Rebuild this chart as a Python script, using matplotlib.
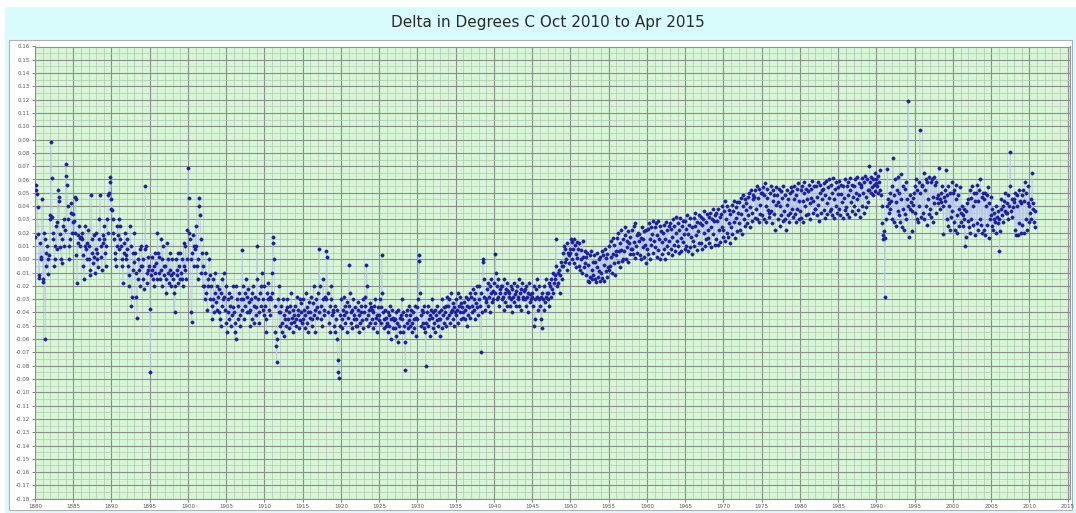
import numpy as np
import matplotlib.pyplot as plt
from matplotlib.patches import Rectangle
from matplotlib.ticker import MultipleLocator

# monthly delta values, thousandths of a degree C, one row per year
d1880 = [17, 56, 52, 49, 39, 19, -12, -14, 12, 2, 0, 45,
         -15, -17, 20, 15, -60, 5, -5, 10, 0, -11, 3, 30,
         33, 88, 61, 32, 20, 15, -5, 0, 10, 25, 8, 28,
         52, 47, 44, 19, 9, 0, -3, 15, 25, 30, 10, 22,
         72, 63, 56, 40, 30, 10, 0, 15, 35, 42, 20, 28,
         34, 29, 20, 47, 45, 3, -18, 12, 18, 25, 10, 16,
         17, 15, 20, 3, -5, -15, 10, 25, 8, 0, 12, 22,
         10, 0, -8, -12, 48, 15, 5, -3, 18, 2, -10, 8,
         20, 5, 0, -6, 15, 30, 48, 10, 2, -8, 12, 18,
         15, 25, 5, -5, 10, 30, 20, 48, 50, 62, 58, 38]
d1890 = [45, 37, 30, 20, 15, 5, 0, -5, 10, 25, 18, 8,
         30, 25, 15, 10, 0, -5, -18, 5, 12, 20, 3, 0,
         15, 8, -5, -12, -20, 25, 10, -35, -28, 5, -8, -2,
         20, 5, -10, -28, -44, -15, 0, -8, 8, -20, -5, 10,
         -5, 0, -15, -22, 8, 55, 10, -10, -18, 2, -8, -5,
         -37, -85, -12, -8, 2, -15, -5, -20, 5, -10, -3, -15,
         20, 5, -10, 2, -15, -8, 15, -20, 0, 10, -12, -5,
         -5, -15, -25, 12, -10, 0, -18, -8, 5, -20, -12, 0,
         -10, -15, -25, -40, -20, 0, -8, -12, 5, -18, -5, -15,
         5, -10, -15, 0, -20, 12, -5, -8, 10, -15, 0, 22]
d1900 = [69, 46, 20, 15, 0, -40, -47, 5, 18, -5, 10, 8,
         25, 10, -5, -15, 0, 46, 40, 33, 15, -10, 5, -20,
         -5, -20, -30, -10, 5, -25, -38, -15, -20, 0, -12, -30,
         -20, -35, -45, -30, -15, -40, -25, -10, -32, -38, -20, -28,
         -22, -40, -45, -50, -25, -15, -35, -30, -10, -28, -38, -20,
         -48, -55, -40, -30, -25, -45, -35, -50, -28, -42, -36, -20,
         -40, -48, -55, -60, -20, -30, -45, -35, -25, -42, -50, -30,
         -38, 7, -20, -30, -45, -25, -35, -15, -28, -40, -22, -32,
         -40, -50, -38, -30, -25, -45, -20, -35, -48, -28, -36, -42,
         10, -15, -30, -40, -48, -25, -20, -35, -10, -30, -38, -42]
d1910 = [-20, -35, -45, -55, -25, -30, -18, -38, -28, -42, -30, -25,
         -10, 17, 12, 0, -35, -55, -65, -77, -60, -30, -40, -20,
         -50, -40, -35, -55, -48, -30, -42, -58, -45, -38, -50, -36,
         -30, -45, -52, -40, -35, -48, -25, -44, -55, -38, -42, -47,
         -35, -50, -45, -28, -42, -38, -52, -30, -46, -40, -33, -48,
         -45, -30, -38, -52, -42, -25, -48, -36, -55, -40, -32, -44,
         -40, -28, -50, -45, -33, -20, -42, -38, -55, -30, -36, -44,
         -25, -40, 8, -20, -45, -35, -50, -30, -15, -38, -42, -28,
         -30, 6, 2, -25, -40, -48, -35, -55, -30, -20, -42, -38,
         -40, -50, -35, -55, -45, -38, -60, -76, -85, -89, -50, -42]
d1920 = [-30, -45, -52, -38, -28, -42, -35, -48, -40, -55, -32, -44,
         -35, -4, -25, -40, -48, -52, -38, -30, -45, -42, -36, -50,
         -45, -50, -38, -32, -55, -42, -48, -35, -40, -46, -30, -52,
         -40, -35, -28, -45, -4, -20, -42, -50, -38, -33, -48, -36,
         -38, -45, -52, -40, -35, -48, -30, -44, -55, -42, -36, -46,
         -42, -30, -48, -36, 3, -25, -40, -52, -45, -38, -50, -44,
         -48, -40, -55, -42, -50, -35, -60, -45, -38, -52, -44, -46,
         -52, -45, -58, -40, -48, -62, -38, -50, -44, -55, -42, -30,
         -45, -55, -40, -50, -62, -83, -42, -48, -38, -52, -46, -35,
         -50, -42, -38, -55, -48, -40, -52, -45, -35, -58, -44, -36]
d1930 = [-45, -30, 3, -1, -25, -42, -50, -38, -48, -40, -35, -52,
         -55, -80, -48, -40, -35, -50, -45, -42, -58, -38, -44, -30,
         -40, -52, -48, -38, -55, -42, -46, -35, -50, -45, -40, -58,
         -45, -38, -52, -30, -42, -36, -48, -40, -35, -50, -44, -28,
         -35, -42, -30, -48, -40, -25, -38, -45, -33, -50, -36, -40,
         -30, -42, -38, -25, -48, -35, -40, -28, -45, -33, -36, -44,
         -40, -32, -45, -38, -28, -50, -35, -42, -30, -36, -44, -25,
         -28, -35, -40, -22, -38, -30, -45, -25, -33, -36, -20, -42,
         -30, -20, -35, -25, -70, -40, 0, -2, -15, -28, -38, -32,
         -30, -22, -35, -18, -28, -40, -20, -25, -15, -32, -24, -30]
d1940 = [-18, -25, 4, -10, -20, -30, -28, -15, -35, -22, -25, -20,
         -30, -20, -28, -38, -15, -25, -32, -22, -18, -35, -24, -28,
         -25, -35, -20, -30, -40, -22, -28, -18, -32, -26, -35, -24,
         -20, -30, -28, -15, -35, -25, -22, -38, -18, -28, -30, -24,
         -22, -30, -35, -20, -28, -40, -25, -18, -32, -26, -30, -28,
         -25, -35, -20, -50, -45, -30, -22, -15, -28, -38, -20, -30,
         -35, -28, -45, -52, -25, -30, -20, -38, -32, -15, -28, -25,
         -30, -25, -18, -35, -20, -28, -15, -22, -10, -25, -18, -12,
         -15, 15, -5, -20, -10, -18, -8, -25, -12, -2, -15, -5,
         -5, 5, 10, -2, 8, 0, -8, 12, 5, 3, -3, 8]
d1950 = [5, 15, 13, 0, 8, 15, -3, 11, 4, -6, 13, 1,
         8, -5, 12, -8, 7, 0, -10, 14, 2, -6, 6, -3,
         2, -12, 5, -16, -4, -17, 3, -13, 6, -8, -15, -2,
         -12, 3, -15, -2, -17, -6, 5, -13, 0, -9, -16, 2,
         -10, 6, -14, 3, -16, -4, 8, -9, 1, -13, 4, -6,
         -8, 10, -5, 14, 2, -10, 16, 4, -3, 11, -12, 6,
         3, 16, -2, 20, 6, 12, -6, 22, 7, -1, 15, 0,
         6, 18, 24, 0, 14, 9, 21, -2, 12, 4, 17, 8,
         8, 22, 4, 25, 13, 1, 27, 10, 18, 5, 20, 14,
         19, 3, 16, 0, 24, 9, 15, 2, 21, 11, -3, 22]
d1960 = [8, 23, 4, 27, 15, 0, 24, 11, 19, 5, 29, 14,
         24, 9, 27, 2, 18, 29, 7, 15, 25, 0, 21, 13,
         4, 20, 8, 26, 0, 15, 28, 10, 22, 5, 14, 25,
         27, 8, 23, 3, 17, 30, 11, 25, 6, 20, 32, 14,
         10, 27, 5, 22, 31, 16, 6, 25, 13, 29, 19, 8,
         29, 10, 23, 33, 6, 19, 26, 9, 31, 17, 4, 24,
         14, 31, 10, 25, 35, 18, 7, 28, 21, 33, 12, 27,
         32, 12, 26, 8, 30, 20, 36, 10, 28, 15, 34, 22,
         16, 32, 12, 35, 24, 9, 30, 38, 19, 29, 11, 33,
         35, 15, 29, 11, 38, 22, 32, 13, 34, 24, 40, 17]
d1970 = [22, 36, 44, 14, 30, 40, 20, 17, 37, 27, 12, 34,
         24, 41, 19, 36, 44, 28, 16, 39, 31, 21, 43, 35,
         27, 43, 22, 46, 34, 19, 40, 48, 30, 25, 45, 37,
         42, 27, 47, 33, 50, 24, 39, 52, 35, 29, 45, 48,
         47, 31, 52, 38, 55, 30, 46, 28, 53, 41, 34, 50,
         50, 33, 54, 30, 48, 57, 40, 28, 46, 53, 37, 35,
         32, 50, 36, 55, 27, 44, 52, 34, 48, 22, 41, 54,
         48, 30, 43, 53, 25, 40, 51, 33, 46, 29, 55, 36,
         30, 48, 22, 41, 52, 33, 45, 28, 50, 35, 54, 38,
         51, 32, 45, 55, 34, 48, 28, 53, 38, 57, 30, 44]
d1980 = [36, 52, 31, 55, 44, 28, 50, 58, 40, 33, 53, 45,
         51, 34, 56, 42, 30, 53, 46, 59, 35, 44, 55, 38,
         38, 55, 33, 47, 58, 41, 29, 50, 56, 35, 45, 52,
         53, 37, 57, 31, 48, 59, 42, 34, 54, 46, 60, 36,
         38, 56, 33, 50, 61, 45, 31, 53, 40, 58, 35, 49,
         54, 38, 59, 33, 49, 56, 43, 31, 55, 46, 60, 37,
         39, 55, 34, 58, 48, 32, 52, 61, 43, 36, 56, 47,
         55, 40, 60, 34, 50, 62, 45, 37, 57, 48, 32, 54,
         56, 40, 61, 50, 35, 58, 63, 47, 39, 60, 52, 43,
         52, 70, 58, 50, 62, 54, 48, 60, 56, 65, 51, 57]
d1990 = [60, 55, 63, 50, 58, 67, 52, 48, 40, 27, 18, 15,
         21, -28, 16, 30, 40, 68, 45, 35, 42, 50, 38, 44,
         55, 30, 76, 48, 28, 60, 43, 25, 52, 36, 62, 33,
         50, 28, 64, 45, 24, 55, 38, 22, 53, 34, 58, 30,
         45, 40, 119, 17, 38, 48, 43, 36, 21, 46, 41, 50,
         55, 35, 60, 30, 52, 28, 58, 40, 97, 50, 32, 56,
         55, 35, 65, 30, 52, 60, 40, 26, 58, 45, 62, 34,
         38, 58, 32, 60, 47, 28, 62, 42, 56, 35, 58, 46,
         48, 42, 69, 45, 38, 50, 43, 55, 40, 19, 47, 44,
         52, 67, 30, 48, 25, 55, 40, 22, 50, 32, 58, 36]
d2000 = [50, 28, 52, 22, 45, 56, 33, 20, 48, 38, 25, 54,
         35, 28, 40, 25, 33, 38, 30, 10, 17, 36, 42, 29,
         45, 24, 52, 20, 46, 30, 55, 26, 40, 50, 18, 44,
         50, 27, 56, 22, 44, 52, 30, 60, 26, 47, 20, 50,
         45, 22, 50, 18, 40, 48, 26, 54, 16, 42, 30, 47,
         33, 25, 38, 22, 30, 35, 28, 40, 20, 32, 27, 36,
         30, 6, 21, 38, 45, 33, 40, 28, 44, 36, 50, 35,
         42, 35, 48, 30, 40, 55, 81, 36, 45, 32, 39, 43,
         45, 22, 50, 18, 40, 48, 18, 52, 27, 44, 20, 42,
         48, 26, 52, 20, 44, 58, 30, 50, 22, 42, 55, 28]
d2010 = [40, 35, 45, 30, 65, 38, 42, 28, 24, 36]

title = 'Delta in Degrees C Oct 2010 to Apr 2015'
start_year = 1880

delta = np.array(d1880 + d1890 + d1900 + d1910 + d1920 + d1930 + d1940 +
                 d1950 + d1960 + d1970 + d1980 + d1990 + d2000 + d2010) / 1000.0
months = np.arange(len(delta))
t = start_year + months / 12.0

W, H = 1076, 513
fig = plt.figure(figsize=(W / 100, H / 100), dpi=100)
fig.patch.set_facecolor('white')

# cyan frame round the chart and the title band
fig.patches.append(Rectangle((5 / W, 0), 1 - 5 / W, 1 - 7 / H, transform=fig.transFigure,
                             facecolor='#d8fbfb', edgecolor='none', zorder=-3))
fig.patches.append(Rectangle((9 / W, 3 / H), 1063 / W, 1 - 43 / H, transform=fig.transFigure,
                             facecolor='white', edgecolor='#b0b0b0', lw=0.8, zorder=-2))
fig.text(548 / W, 1 - 22 / H, title, ha='center', va='center', fontsize=11, color='#2a2a2a')

ax = fig.add_axes([35 / W, 1 - 498.7 / H, (1070 - 35) / W, (498.7 - 46.5) / H])
ax.set_zorder(1)
ax.set_facecolor('#d6f6d6')

ax.plot(t, delta, '-', color='#b9c7e8', lw=0.5, zorder=2)
ax.plot(t, delta, 'o', ms=2.4, color='#1d1d9e', mec='#1d1d9e', mew=0.3, zorder=3)

ax.set_xlim(1880, 2015.3)
ax.set_ylim(-0.18, 0.16)
xt = np.arange(1880, 2016, 5)
ax.set_xticks(xt)
ax.set_xticklabels([str(x) for x in xt])
yt = np.round(np.arange(-0.18, 0.1601, 0.01), 2)
ax.set_yticks(yt)
ax.set_yticklabels(['%.2f' % y for y in yt])
ax.xaxis.set_minor_locator(MultipleLocator(1))
ax.yaxis.set_minor_locator(MultipleLocator(0.005))

ax.grid(which='major', color='#8a8f8a', lw=0.8)
ax.grid(which='minor', color='#b5c5b5', lw=0.5)
ax.set_axisbelow(True)
ax.tick_params(which='major', labelsize=4, colors='#555555', length=2, width=0.5, pad=1.5)
ax.tick_params(which='minor', length=0)
for s in ax.spines.values():
    s.set_color('#909090')
    s.set_linewidth(0.8)

fig.savefig('out.png', dpi=100)
